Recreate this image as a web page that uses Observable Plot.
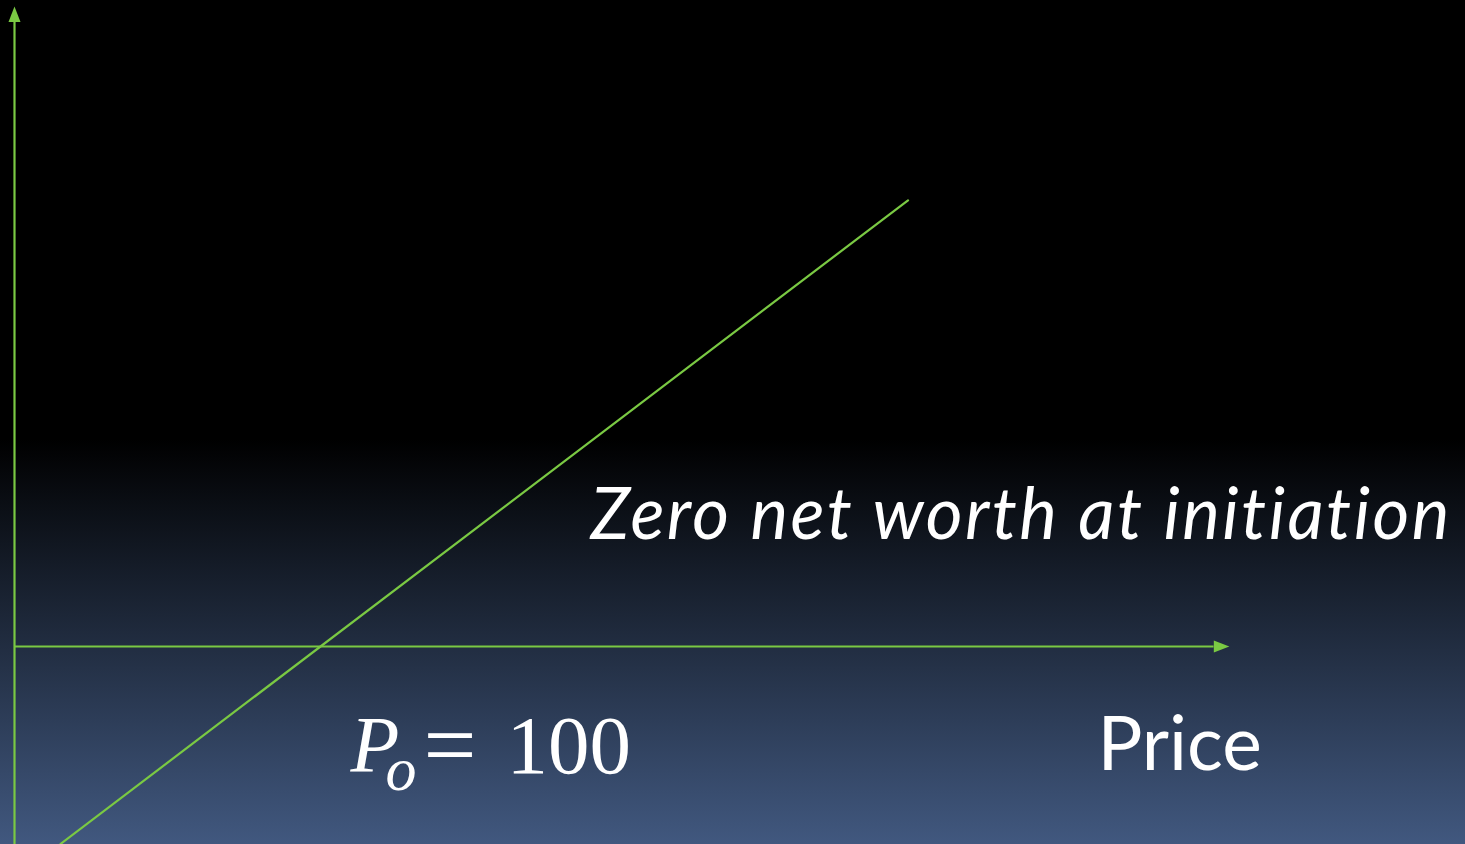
<!DOCTYPE html>
<html>
<head>
<meta charset="utf-8">
<script src="https://cdn.jsdelivr.net/npm/d3@7"></script>
<script src="https://cdn.jsdelivr.net/npm/@observablehq/plot@0.6"></script>
<style>
  html, body { margin: 0; padding: 0; background: #000; }
  #chart svg { display: block; }
  #chart text { font-variant-ligatures: none; }
</style>
</head>
<body>
<div id="chart"></div>
<script>
// Long forward payoff: value = price - initial price (P0 = 100)
const initialPrice = 100;
const forwardPrice = [15, 292];
const forwardPayoff = forwardPrice.map(p => p - initialPrice);

// Axis extents (price axis along payoff = 0, payoff axis along price = 0)
const priceAxisEnd = [397];
const payoffAxisEnds = [-86, 275.4];

// Labels
const headline = ["Zero net worth at initiation"];
const priceLabel = ["Price"];

const green = "#7ac943";

const forward = forwardPrice.map((p, i) => ({price: p, payoff: forwardPayoff[i]}));

// Filled arrowhead with its tip at the dot's anchor, pointing up
const arrowHead = {
  draw(ctx, size) {
    const r = Math.sqrt(size / Math.PI);
    ctx.moveTo(0, 0);
    ctx.lineTo(0.6 * r, 1.55 * r);
    ctx.lineTo(-0.6 * r, 1.55 * r);
    ctx.closePath();
  }
};

const chart = Plot.plot({
  width: 1465,
  height: 844,
  margin: 0,
  x: {domain: [-4.575, 474.18], axis: null},
  y: {domain: [-85.2, 277.97], axis: null},
  style: {
    background: "linear-gradient(to bottom, #000000 0%, #000000 52%, #41587f 100%)",
    overflow: "visible"
  },
  marks: [
    // payoff axis (vertical)
    Plot.ruleX([0], {y1: payoffAxisEnds[0], y2: payoffAxisEnds[1] - 5, stroke: green, strokeWidth: 2.2}),
    Plot.dot([0], {x: d => d, y: payoffAxisEnds[1], symbol: arrowHead, r: 10, fill: green, stroke: "none"}),
    // price axis (horizontal)
    Plot.ruleY([0], {x1: 0, x2: priceAxisEnd[0] - 5, stroke: green, strokeWidth: 2.2}),
    Plot.dot(priceAxisEnd, {x: d => d, y: 0, symbol: arrowHead, r: 10, rotate: 90, fill: green, stroke: "none"}),
    // forward payoff line
    Plot.line(forward, {x: "price", y: "payoff", stroke: green, strokeWidth: 2.2}),
    // headline
    Plot.text(headline, {
      x: 188.2, y: 55.9, text: d => d, textAnchor: "start", lineAnchor: "middle",
      fill: "white", fontFamily: "Lato", fontStyle: "italic", fontSize: 71
    }),
    // P_o = 100 label at the initial price
    Plot.text(["P"], {
      x: initialPrice, y: 0, dx: 30, dy: 100, text: d => d, textAnchor: "start", lineAnchor: "middle",
      fill: "white", fontFamily: "Liberation Serif", fontStyle: "italic", fontSize: 80
    }),
    Plot.text(["o"], {
      x: initialPrice, y: 0, dx: 65, dy: 124, text: d => d, textAnchor: "start", lineAnchor: "middle",
      fill: "white", fontFamily: "Liberation Serif", fontStyle: "italic", fontSize: 62
    }),
    Plot.text(["="], {
      x: initialPrice, y: 0, dx: 103, dy: 99, text: d => d, textAnchor: "start", lineAnchor: "middle",
      fill: "white", fontFamily: "Liberation Serif", fontSize: 94
    }),
    Plot.text([String(initialPrice)], {
      x: initialPrice, y: 0, dx: 186, dy: 100, text: d => d, textAnchor: "start", lineAnchor: "middle",
      fill: "white", fontFamily: "Liberation Serif", fontSize: 83
    }),
    // price axis label
    Plot.text(priceLabel, {
      x: 353.9, y: 0, dy: 100, text: d => d, textAnchor: "start", lineAnchor: "middle",
      fill: "white", fontFamily: "Lato", fontSize: 75
    })
  ]
});

// widen the headline's letter spacing to the slide's set width
d3.select(chart).selectAll("text")
  .filter(function () { return this.textContent === headline[0]; })
  .attr("letter-spacing", 2.4);

document.getElementById("chart").appendChild(chart);
</script>
</body>
</html>
